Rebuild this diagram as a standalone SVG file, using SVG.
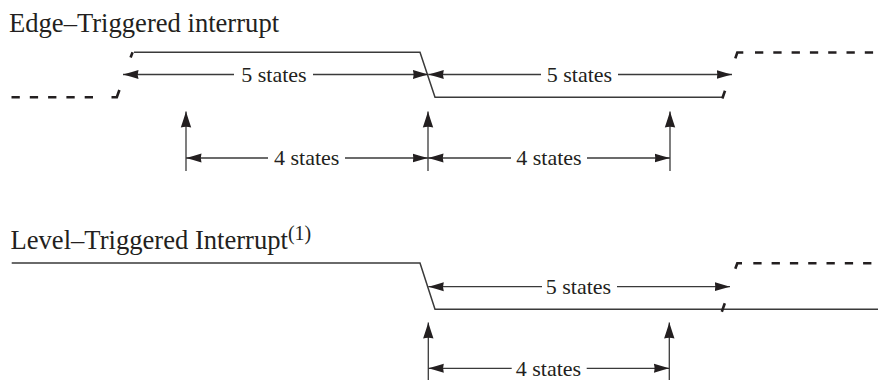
<svg xmlns="http://www.w3.org/2000/svg" width="878" height="380" viewBox="0 0 878 380">
  <defs>
    <marker id="ah" markerUnits="userSpaceOnUse" markerWidth="16" markerHeight="10" viewBox="0 0 16 10" refX="15.5" refY="5" orient="auto-start-reverse">
      <path d="M0,0.5 Q8,3 15.5,5 Q8,7 0,9.5 Q1.5,5 0,0.5 Z" fill="#231f20"/>
    </marker>
    <marker id="av" markerUnits="userSpaceOnUse" markerWidth="17" markerHeight="12" viewBox="0 0 17 12" refX="16" refY="6" orient="auto-start-reverse">
      <path d="M0,0.8 Q8,3.5 16,6 Q8,8.5 0,11.2 Q1.5,6 0,0.8 Z" fill="#231f20"/>
    </marker>
    <style>
      .t { font-family: "Liberation Serif", "Times New Roman", serif; fill: #231f20; }
      .title { font-size: 26.6px; }
      .lbl { font-size: 22px; text-anchor: middle; }
      .sig { fill: none; stroke: #3a3a3a; stroke-width: 1.5; }
      .dash { fill: none; stroke: #231f20; stroke-width: 2.6; stroke-dasharray: 8.3 10; }
      .hook { fill: none; stroke: #231f20; stroke-width: 2.6; }
      .dim { fill: none; stroke: #3a3a3a; stroke-width: 1.3; }
      .arr { marker-end: url(#ah); }
      .varr { marker-end: url(#av); }
    </style>
  </defs>

  <g id="title-edge">
    <text class="t title" x="9" y="32">Edge–Triggered interrupt</text>
  </g>
  <g id="title-level">
    <text class="t title" x="10.5" y="249">Level–Triggered Interrupt<tspan font-size="20" dy="-9.5">(1)</tspan></text>
  </g>

  <g id="edge-signal">
    <line class="dash" x1="11.5" y1="97.3" x2="103" y2="97.3"/>
    <path class="hook" d="M111.5,97.3 H116.8 L119.4,90"/>
    <path class="hook" d="M130.6,57.5 L132.6,52.3"/>
    <path class="sig" d="M134,52.3 H420 L435,97.3 H722.3"/>
    <path class="hook" d="M722.3,98.5 L725,90.7"/>
    <path class="hook" d="M735.3,58.3 L737.3,52.5 H743.3"/>
    <line class="dash" x1="755" y1="52.5" x2="878" y2="52.5"/>
  </g>

  <g id="level-signal">
    <path class="sig" d="M11.7,263 H420 L435,309.3 H878"/>
    <path class="hook" d="M721.8,311.7 L724.8,303.3"/>
    <path class="hook" d="M735.3,268.8 L737.3,263.3 H742"/>
    <line class="dash" x1="753.3" y1="263.3" x2="878" y2="263.3"/>
  </g>

  <g id="connectors">
    <line class="dim arr" x1="234" y1="74.5" x2="123" y2="74.5"/>
    <line class="dim arr" x1="313" y1="74.5" x2="428.3" y2="74.5"/>
    <line class="dim arr" x1="541" y1="74.5" x2="428.3" y2="74.5"/>
    <line class="dim arr" x1="618" y1="74.5" x2="732" y2="74.5"/>
    <line class="dim varr" x1="186" y1="171" x2="186" y2="111.5"/>
    <line class="dim varr" x1="428" y1="171" x2="428" y2="111.5"/>
    <line class="dim varr" x1="670" y1="171" x2="670" y2="111.5"/>
    <line class="dim arr" x1="268" y1="158" x2="186" y2="158"/>
    <line class="dim arr" x1="345" y1="158" x2="428" y2="158"/>
    <line class="dim arr" x1="511" y1="158" x2="428" y2="158"/>
    <line class="dim arr" x1="587" y1="158" x2="670" y2="158"/>
    <line class="dim arr" x1="542" y1="286.7" x2="428.3" y2="286.7"/>
    <line class="dim arr" x1="617" y1="286.7" x2="730" y2="286.7"/>
    <line class="dim varr" x1="428.3" y1="380" x2="428.3" y2="322.5"/>
    <line class="dim varr" x1="669.3" y1="380" x2="669.3" y2="322.5"/>
    <line class="dim arr" x1="511.7" y1="368.3" x2="428.3" y2="368.3"/>
    <line class="dim arr" x1="586.7" y1="368.3" x2="669.3" y2="368.3"/>
  </g>

  <g id="labels">
    <text class="t lbl" x="274" y="81.8">5 states</text>
    <text class="t lbl" x="579.5" y="81.8">5 states</text>
    <text class="t lbl" x="306.7" y="165.3">4 states</text>
    <text class="t lbl" x="549" y="165.3">4 states</text>
    <text class="t lbl" x="578.5" y="294">5 states</text>
    <text class="t lbl" x="548.5" y="375.6">4 states</text>
  </g>
</svg>
